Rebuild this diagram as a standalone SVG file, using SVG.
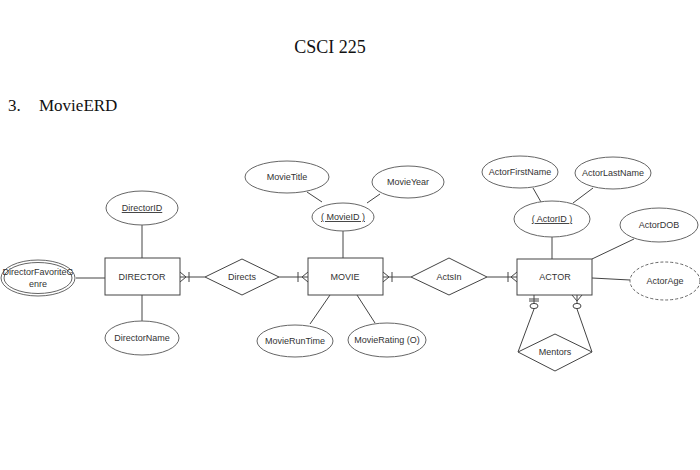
<svg xmlns="http://www.w3.org/2000/svg" width="700" height="470" viewBox="0 0 700 470">
<style>
.t{font-family:"Liberation Sans",Arial,sans-serif;font-size:9px;fill:#333;text-anchor:middle}
.h{font-family:"Liberation Serif","Times New Roman",serif;fill:#111}
.s{fill:#fff;stroke:#444;stroke-width:1}
.e{fill:#fff;stroke:#666;stroke-width:1}
.c{fill:none;stroke:#444;stroke-width:1}
</style>
<rect width="700" height="470" fill="#fff"/>
<text class="h" x="330" y="53" font-size="18" text-anchor="middle">CSCI 225</text>
<text class="h" x="8" y="111" font-size="17">3.</text>
<text class="h" x="39" y="111" font-size="17">MovieERD</text>

<g id="connectors">
  <line class="c" x1="142" y1="225" x2="142" y2="258"/>
  <line class="c" x1="142" y1="295" x2="142" y2="321"/>
  <line class="c" x1="76" y1="278" x2="105" y2="278"/>
  <line class="c" x1="180" y1="277" x2="205" y2="277"/>
  <path class="c" d="M180 272 L186 277 L180 282 M189 272 V282"/>
  <line class="c" x1="279" y1="277" x2="308" y2="277"/>
  <path class="c" d="M308 272 L302 277 L308 282 M298 272 V282"/>
  <line class="c" x1="343" y1="231" x2="343" y2="258"/>
  <line class="c" x1="307" y1="192" x2="322" y2="202"/>
  <line class="c" x1="380" y1="194" x2="367" y2="203"/>
  <line class="c" x1="330" y1="295" x2="310" y2="324"/>
  <line class="c" x1="357" y1="295" x2="375" y2="323"/>
  <line class="c" x1="383" y1="277" x2="411" y2="277"/>
  <path class="c" d="M383 272 L389 277 L383 282 M392 272 V282"/>
  <line class="c" x1="487" y1="277" x2="517" y2="277"/>
  <path class="c" d="M517 272 L511 277 L517 282 M508 272 V282"/>
  <line class="c" x1="552" y1="237" x2="552" y2="259"/>
  <line class="c" x1="533" y1="188" x2="541" y2="202"/>
  <line class="c" x1="593" y1="188" x2="573" y2="203"/>
  <line class="c" x1="634" y1="239" x2="592" y2="259"/>
  <line class="c" x1="592" y1="278" x2="630" y2="280"/>
  <line class="c" x1="534" y1="295" x2="534" y2="303"/>
  <path class="c" d="M529 299 H539 M529 301 H539"/>
  <ellipse class="c" cx="534" cy="306" rx="4" ry="2.6"/>
  <line class="c" x1="534" y1="309" x2="518" y2="352"/>
  <line class="c" x1="577" y1="295" x2="577" y2="303"/>
  <path class="c" d="M572 295 L577 301 L582 295"/>
  <ellipse class="c" cx="577" cy="306" rx="4" ry="2.6"/>
  <line class="c" x1="577" y1="309" x2="592" y2="352"/>
</g>

<g id="DIRECTOR"><rect class="s" x="105" y="258" width="75" height="37"/><text class="t" x="142" y="280">DIRECTOR</text></g>
<g id="DirectorID"><ellipse class="e" cx="142" cy="208" rx="36" ry="17"/><text class="t" x="142" y="211" text-decoration="underline">DirectorID</text></g>
<g id="DirectorName"><ellipse class="e" cx="142" cy="338" rx="37" ry="17"/><text class="t" x="142" y="341">DirectorName</text></g>
<g id="DirectorFavoriteGenre"><ellipse class="e" cx="38" cy="278" rx="37" ry="18"/><ellipse class="e" cx="38" cy="278" rx="34" ry="15.5"/><text class="t" x="38" y="275">DirectorFavoriteG</text><text class="t" x="38" y="287">enre</text></g>
<g id="Directs"><polygon class="s" points="205,277 242,259 279,277 242,295"/><text class="t" x="242" y="280">Directs</text></g>
<g id="MOVIE"><rect class="s" x="308" y="258" width="75" height="37"/><text class="t" x="345" y="280">MOVIE</text></g>
<g id="MovieID"><ellipse class="e" cx="343" cy="217" rx="31" ry="14"/><text class="t" x="343" y="220" text-decoration="underline">( MovieID )</text></g>
<g id="MovieTitle"><ellipse class="e" cx="287" cy="177" rx="42" ry="16"/><text class="t" x="287" y="180">MovieTitle</text></g>
<g id="MovieYear"><ellipse class="e" cx="408" cy="182" rx="36" ry="16"/><text class="t" x="408" y="185">MovieYear</text></g>
<g id="MovieRunTime"><ellipse class="e" cx="295" cy="341" rx="38" ry="16"/><text class="t" x="295" y="344">MovieRunTime</text></g>
<g id="MovieRating"><ellipse class="e" cx="387" cy="340" rx="39" ry="17"/><text class="t" x="387" y="343">MovieRating (O)</text></g>
<g id="ActsIn"><polygon class="s" points="411,277 449,258 487,277 449,295"/><text class="t" x="449" y="280">ActsIn</text></g>
<g id="ACTOR"><rect class="s" x="517" y="259" width="75" height="36"/><text class="t" x="555" y="280">ACTOR</text></g>
<g id="ActorID"><ellipse class="e" cx="552" cy="219" rx="38" ry="18"/><text class="t" x="552" y="222" text-decoration="underline">( ActorID )</text></g>
<g id="ActorFirstName"><ellipse class="e" cx="520" cy="172" rx="38" ry="16"/><text class="t" x="520" y="175">ActorFirstName</text></g>
<g id="ActorLastName"><ellipse class="e" cx="613" cy="173" rx="38" ry="16"/><text class="t" x="613" y="176">ActorLastName</text></g>
<g id="ActorDOB"><ellipse class="e" cx="659" cy="225" rx="39" ry="17"/><text class="t" x="659" y="228">ActorDOB</text></g>
<g id="ActorAge"><ellipse class="e" cx="665" cy="281" rx="35" ry="19" stroke-dasharray="3,2"/><text class="t" x="665" y="284">ActorAge</text></g>
<g id="Mentors"><polygon class="s" points="518,352 555,334 592,352 555,371"/><text class="t" x="555" y="355">Mentors</text></g>
</svg>
